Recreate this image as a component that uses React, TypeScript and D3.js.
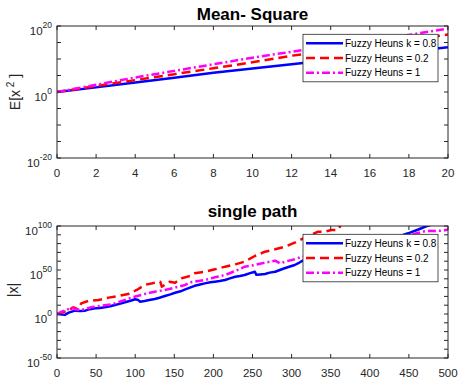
import React from 'react';
import * as d3 from 'd3';

const W = 461;
const H = 385;
const FONT = '"Liberation Sans", Arial, Helvetica, sans-serif';
const AX = '#262626';

// ---------- Mean-square panel (log10 exponents) ----------
const msT = [0, 2, 4, 6, 8, 10, 12, 14, 16, 18, 20];
const msBlue = [0, 1.4, 2.9, 4.3, 5.8, 7.1, 8.4, 9.7, 11.0, 12.3, 13.6];
const msRed = [0, 1.8, 3.6, 5.4, 7.2, 9.0, 11.0, 12.6, 14.2, 15.8, 17.4];
const msMagenta = [0, 2.2, 4.4, 6.4, 8.4, 10.4, 12.2, 13.9, 15.6, 17.3, 19.2];
const msXTicks = [0, 2, 4, 6, 8, 10, 12, 14, 16, 18, 20];
const msYLabels = [20, 0, -20];
const msYTicks = [-20, -15, -10, -5, 0, 5, 10, 15, 20];

// ---------- Single-path panel (log10 exponents) ----------
const spBlueT = [0, 10, 15, 23, 30, 36, 42, 49, 55, 61, 68, 74, 80, 87, 94, 100, 104, 106, 112, 118, 125, 131, 138, 145, 151, 158, 164, 170, 176, 183, 189, 196, 202, 208, 215, 221, 228, 234, 240, 247, 253, 255, 260, 266, 272, 279, 285, 291, 298, 304, 310, 315, 330, 350, 370, 390, 410, 430, 449, 462, 473, 485, 500];
const spBlueV = [0, -1, 1.5, 3.8, 3.5, 3.8, 5.5, 6.4, 6.8, 7.6, 8.8, 10.2, 11.5, 13.3, 15, 16.7, 15.9, 14, 14.8, 15.8, 17, 18.5, 20.4, 22.3, 24.2, 25.8, 28, 30, 32, 33.5, 34.8, 36, 36.7, 37.5, 38.6, 40.5, 42.4, 43.2, 44.3, 46.5, 48, 44.5, 45, 45.5, 47, 48, 50, 52, 54, 55.7, 58.5, 61, 64, 68, 72, 76.5, 81, 86, 91.7, 96, 100, 103, 106];
const spRedT = [0, 2, 14, 21, 27, 31, 40, 53, 66, 78, 91, 102, 112, 125, 132, 134, 144, 151, 159, 170, 176, 189, 202, 215, 228, 240, 253, 266, 279, 292, 304, 315, 334, 342, 351, 359, 365, 380];
const spRedV = [0, 0.4, 3.8, 7.6, 5.3, 12.1, 14.8, 15.9, 18.6, 20.4, 22.7, 27.3, 33, 35.6, 36.7, 31, 36.7, 35.6, 40.5, 43.2, 46.2, 48, 50.8, 53.8, 56.4, 59.5, 65.9, 70.8, 73.5, 76.5, 81, 86, 93.5, 93.5, 95.5, 95.5, 104, 112];
const spMagT = [0, 6, 19, 23, 31, 44, 57, 70, 83, 95, 112, 125, 138, 151, 164, 170, 176, 189, 202, 215, 228, 240, 253, 266, 279, 285, 292, 304, 313, 330, 350, 370, 390, 410, 430, 445, 460, 470, 477, 485, 494, 500];
const spMagV = [0, 2.7, 7.2, 5.3, 4.5, 7.6, 9.5, 11, 14.8, 18.6, 22.7, 25.3, 27.3, 30, 33, 36, 36.7, 38.6, 41.7, 44.3, 48.9, 53.8, 55.7, 58.3, 60.6, 57.6, 59.5, 62.2, 65, 68, 71, 74.5, 78, 82, 85.5, 88.5, 91.7, 94, 94.7, 94.3, 94.8, 96];
const spXTicks = [0, 50, 100, 150, 200, 250, 300, 350, 400, 450, 500];
const spYLabels = [100, 50, 0, -50];
const spYTicks = d3.range(-50, 101, 10);

const legendLabels = ['Fuzzy Heuns k = 0.8', 'Fuzzy Heuns = 0.2', 'Fuzzy Heuns = 1'];
const colors = ['#0000FF', '#FF0000', '#FF00FF'];
const dashes = ['none', '9,5', '8,3,2,3'];

type Series = { t: number[]; v: number[] };

function Panel(props: {
  id: string;
  top: number;
  xDomain: [number, number];
  yExp: [number, number];
  series: Series[];
  xTicks: number[];
  yTicks: number[];
  yLabels: number[];
  title: string;
  titleY: number;
  ylabel: React.ReactNode;
  ylabelX: number;
  ylabelY: number;
  legendTop: number;
}) {
  const left = 57, right = 448, height = 132;
  const top = props.top, bottom = top + height;
  const x = d3.scaleLinear().domain(props.xDomain).range([left, right]);
  const y = d3.scaleLog().domain([10 ** props.yExp[0], 10 ** props.yExp[1]]).range([bottom, top]);
  const line = d3.line<[number, number]>().x(d => x(d[0])).y(d => y(10 ** d[1]));
  const tl = 4;
  const lg = { x: 303, y: props.legendTop, w: 135, h: 47.5 };
  return (
    <g>
      <defs>
        <clipPath id={props.id}>
          <rect x={left} y={top} width={right - left} height={height} />
        </clipPath>
      </defs>
      <rect x={left} y={top} width={right - left} height={height} fill="#fff" />
      <g clipPath={`url(#${props.id})`}>
        {props.series.map((s, i) => (
          <path key={i} d={line(s.t.map((t, k) => [t, s.v[k]] as [number, number])) || ''}
            fill="none" stroke={colors[i]} strokeWidth={2.5}
            strokeDasharray={dashes[i]} strokeLinejoin="round" />
        ))}
      </g>
      {/* ticks */}
      {props.xTicks.map(t => (
        <g key={'xt' + t}>
          <line x1={x(t)} x2={x(t)} y1={bottom} y2={bottom - tl} stroke={AX} />
          <line x1={x(t)} x2={x(t)} y1={top} y2={top + tl} stroke={AX} />
          <text x={x(t)} y={bottom + 19} textAnchor="middle" fontSize={11.5} fill={AX} fontFamily={FONT}>{t}</text>
        </g>
      ))}
      {props.yTicks.map(e => (
        <g key={'yt' + e}>
          <line x1={left} x2={left + tl} y1={y(10 ** e)} y2={y(10 ** e)} stroke={AX} />
          <line x1={right} x2={right - tl} y1={y(10 ** e)} y2={y(10 ** e)} stroke={AX} />
        </g>
      ))}
      {props.yLabels.map(e => (
        <text key={'yl' + e} x={52} y={y(10 ** e) + 8.5} textAnchor="end" fontSize={11.5} fill={AX} fontFamily={FONT}>
          <tspan>10</tspan>
          <tspan dy={-6.5} fontSize={8.5}>{e}</tspan>
        </text>
      ))}
      <rect x={left} y={top} width={right - left} height={height} fill="none" stroke={AX} strokeWidth={1} />
      <text x={(left + right) / 2} y={props.titleY} textAnchor="middle" fontSize={17} fontWeight="bold" fill="#000" fontFamily={FONT}>{props.title}</text>
      <text transform={`translate(${props.ylabelX},${props.ylabelY}) rotate(-90)`} textAnchor="middle" fontSize={14} fill={AX} fontFamily={FONT}>{props.ylabel}</text>
      {/* legend */}
      <rect x={lg.x} y={lg.y} width={lg.w} height={lg.h} fill="#fff" stroke={AX} strokeWidth={0.8} />
      {legendLabels.map((lab, i) => {
        const yy = lg.y + 9 + i * 14.7;
        return (
          <g key={lab}>
            <line x1={306} x2={343} y1={yy} y2={yy} stroke={colors[i]} strokeWidth={2.5} strokeDasharray={dashes[i]} />
            <text x={345} y={yy + 3.6} fontSize={10} fill="#000" fontFamily={FONT}>{lab}</text>
          </g>
        );
      })}
    </g>
  );
}

export default function App() {
  return (
    <svg width={W} height={H} style={{ position: 'absolute', left: 0, top: 0, background: '#fff' }}>
      <rect x={0} y={0} width={W} height={H} fill="#fff" />
      <Panel id="clipTop" top={26} xDomain={[0, 20]} yExp={[-20, 20]}
        series={[{ t: msT, v: msBlue }, { t: msT, v: msRed }, { t: msT, v: msMagenta }]}
        xTicks={msXTicks} yTicks={msYTicks} yLabels={msYLabels}
        title="Mean- Square" titleY={19.5}
        ylabel={<><tspan>E[x</tspan><tspan dy={-6} fontSize={10}> 2</tspan><tspan dy={6}> ]</tspan></>}
        ylabelX={20} ylabelY={92} legendTop={34.3} />
      <Panel id="clipBot" top={226} xDomain={[0, 500]} yExp={[-50, 100]}
        series={[{ t: spBlueT, v: spBlueV }, { t: spRedT, v: spRedV }, { t: spMagT, v: spMagV }]}
        xTicks={spXTicks} yTicks={spYTicks} yLabels={spYLabels}
        title="single path" titleY={216.5}
        ylabel={'|x|'} ylabelX={18} ylabelY={290} legendTop={234.3} />
    </svg>
  );
}
